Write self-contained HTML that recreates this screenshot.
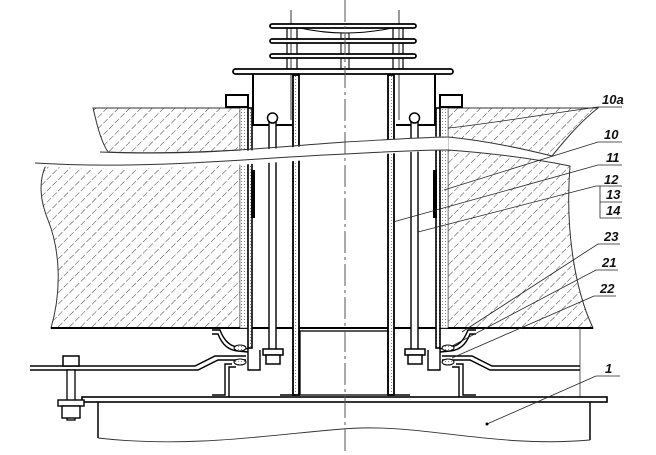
<!DOCTYPE html>
<html><head><meta charset="utf-8"><style>
html,body{margin:0;padding:0;background:#fff;}
svg{display:block}
text{font-family:"Liberation Sans",sans-serif;font-style:italic;font-weight:bold;font-size:13px;fill:#111}
</style></head><body>
<svg width="656" height="455" viewBox="0 0 656 455" xmlns="http://www.w3.org/2000/svg">
<defs>
<pattern id="h" width="8" height="8" patternUnits="userSpaceOnUse" patternTransform="rotate(45)">
<line x1="0" y1="0" x2="0" y2="8" stroke="#444" stroke-width="1" stroke-dasharray="6,2"/>
</pattern>
<pattern id="d" width="3" height="3" patternUnits="userSpaceOnUse">
<rect width="3" height="3" fill="#fff"/><rect x="1" y="1" width="1" height="1" fill="#888"/>
</pattern>
</defs>
<rect width="656" height="455" fill="#fff"/>
<!-- slabs -->
<path d="M93,108 L240,108 L240,150 C200,152 150,154 108,152 C100,140 96,120 93,108 Z" fill="url(#h)" stroke="#333" stroke-width="1"/>
<path d="M448,108 L598,108 C580,122 565,140 552,156 C520,148 480,140 448,137 Z" fill="url(#h)" stroke="#333" stroke-width="1"/>
<path d="M47,163 C120,168 200,165 240,163 L240,328 L51,328 C62,290 60,250 48,220 C40,200 38,180 47,163 Z" fill="url(#h)" stroke="#333" stroke-width="1"/>
<path d="M448,150 C490,153 530,158 570,166 C565,230 575,290 593,328 L448,328 Z" fill="url(#h)" stroke="#333" stroke-width="1"/>
<line x1="51" y1="328" x2="593" y2="328" stroke="#000" stroke-width="2"/>
<!-- insulation -->
<rect x="240" y="108" width="8" height="220" fill="url(#d)" stroke="#555" stroke-width="0.6"/>
<rect x="440" y="108" width="8" height="220" fill="url(#d)" stroke="#555" stroke-width="0.6"/>
<!-- sleeves outer -->
<rect x="248" y="108" width="4" height="240" fill="url(#d)" stroke="#000" stroke-width="1.6"/>
<rect x="436" y="108" width="4" height="240" fill="url(#d)" stroke="#000" stroke-width="1.6"/>
<rect x="251" y="170" width="4" height="48" fill="#000"/>
<rect x="433" y="170" width="4" height="48" fill="#000"/>
<!-- caps -->
<rect x="226" y="95" width="22" height="12" fill="#fff" stroke="#000" stroke-width="2"/>
<rect x="440" y="95" width="22" height="12" fill="#fff" stroke="#000" stroke-width="2"/>
<!-- boxes -->
<path d="M253,73 L253,125 L292,125" fill="none" stroke="#000" stroke-width="2"/>
<path d="M435,73 L435,125 L396,125" fill="none" stroke="#000" stroke-width="2"/>
<!-- inner pipes -->
<rect x="293" y="75" width="6" height="320" fill="url(#d)" stroke="#000" stroke-width="1.8"/>
<rect x="388" y="75" width="6" height="320" fill="url(#d)" stroke="#000" stroke-width="1.8"/>
<!-- rods -->
<rect x="269" y="118" width="7" height="232" fill="#fff" stroke="#000" stroke-width="1.4"/>
<rect x="411" y="118" width="7" height="232" fill="#fff" stroke="#000" stroke-width="1.4"/>
<circle cx="272.5" cy="118" r="5" fill="#fff" stroke="#000" stroke-width="1.5"/>
<circle cx="414.5" cy="118" r="5" fill="#fff" stroke="#000" stroke-width="1.5"/>
<rect x="263" y="349" width="20" height="6" fill="#fff" stroke="#000" stroke-width="1.5"/>
<rect x="266" y="355" width="14" height="9" fill="#fff" stroke="#000" stroke-width="1.5"/>
<rect x="405" y="349" width="20" height="6" fill="#fff" stroke="#000" stroke-width="1.5"/>
<rect x="408" y="355" width="14" height="9" fill="#fff" stroke="#000" stroke-width="1.5"/>
<!-- grille -->
<line x1="291" y1="10" x2="291" y2="120" stroke="#000" stroke-width="0.8"/>
<line x1="399" y1="10" x2="399" y2="120" stroke="#000" stroke-width="0.8"/>
<rect x="287" y="28" width="10" height="42" fill="none" stroke="#000" stroke-width="1.2"/>
<rect x="393" y="28" width="10" height="42" fill="none" stroke="#000" stroke-width="1.2"/>
<rect x="341" y="33" width="8" height="37" fill="none" stroke="#000" stroke-width="1"/>
<path d="M300,28 Q345,38 392,28" fill="none" stroke="#000" stroke-width="1"/>
<rect x="270" y="24" width="146" height="4" rx="2" fill="#fff" stroke="#000" stroke-width="1.8"/>
<rect x="270" y="39" width="146" height="4" rx="2" fill="#fff" stroke="#000" stroke-width="1.8"/>
<rect x="270" y="54" width="146" height="4" rx="2" fill="#fff" stroke="#000" stroke-width="1.8"/>
<rect x="233" y="69" width="220" height="5" rx="2.5" fill="#fff" stroke="#000" stroke-width="1.8"/>
<!-- break band -->
<path d="M30,150 C150,162 250,150 345,143 C400,139 430,137 448,136 L448,150 C420,151 400,153 345,157 C250,165 150,172 30,166 Z" fill="#fff"/>
<path d="M35,163 C150,170 250,158 345,154 C400,151 430,150 448,150" fill="none" stroke="#333" stroke-width="1"/>
<path d="M100,152 C200,156 260,148 345,142 C400,139 430,137 448,137" fill="none" stroke="#333" stroke-width="1"/>
<!-- bottom inner tube -->
<rect x="300" y="331" width="88" height="64" fill="none" stroke="#000" stroke-width="1.3"/>
<!-- flashing -->
<g fill="none" stroke="#000" stroke-width="1.4">
<path d="M212,330 L220,330 Q226,346 238,347 L248,349"/>
<path d="M212,334 L218,334 Q224,350 238,351 L248,352"/>
<path d="M30,366 L195,366 L215,356 L246,356"/>
<path d="M30,370 L198,370 L218,360 L246,360"/>
<path d="M248,348 L248,370 L260,370 L260,350"/>
<path d="M232,364 L225,364 L225,395 L212,395"/>
<path d="M236,367 L229,367 L229,398 L212,398"/>
<path d="M476,330 L468,330 Q462,346 450,347 L440,349"/>
<path d="M476,334 L470,334 Q464,350 450,351 L440,352"/>
<path d="M442,356 L472,356 L492,366 L580,366"/>
<path d="M442,360 L470,360 L490,370 L580,370"/>
<path d="M440,348 L440,370 L428,370 L428,350"/>
<path d="M456,364 L463,364 L463,395 L476,395"/>
<path d="M452,367 L459,367 L459,398 L476,398"/>
<path d="M280,395 L296,395 M388,395 L410,395"/>
</g>
<ellipse cx="240" cy="348" rx="6" ry="3" fill="url(#d)" stroke="#000"/>
<ellipse cx="240" cy="362" rx="6" ry="3" fill="url(#d)" stroke="#000"/>
<ellipse cx="448" cy="348" rx="6" ry="3" fill="url(#d)" stroke="#000"/>
<ellipse cx="448" cy="362" rx="6" ry="3" fill="url(#d)" stroke="#000"/>
<line x1="580" y1="328" x2="580" y2="398" stroke="#333" stroke-width="0.8"/>
<!-- plate 1 -->
<rect x="82" y="397" width="525" height="5" fill="#fff" stroke="#000" stroke-width="1.6"/>
<path d="M98,402 L98,438 M590,402 L590,440" stroke="#000" stroke-width="1.5"/>
<path d="M98,438 C200,450 300,430 360,428 C430,426 500,448 590,440" fill="none" stroke="#333" stroke-width="0.9"/>
<!-- bolt -->
<rect x="63" y="356" width="16" height="10" fill="#fff" stroke="#000" stroke-width="1.5"/>
<rect x="67" y="370" width="8" height="50" fill="#fff" stroke="#000" stroke-width="1.3"/>
<rect x="58" y="400" width="26" height="6" fill="#fff" stroke="#000" stroke-width="1.4"/>
<rect x="62" y="406" width="18" height="12" fill="#fff" stroke="#000" stroke-width="1.4"/>
<!-- centerline -->
<line x1="345" y1="0" x2="345" y2="455" stroke="#555" stroke-width="1" stroke-dasharray="22,4,3,4"/>
<!-- leaders -->
<g stroke="#222" stroke-width="0.8" fill="none">
<path d="M622,107 L598,107 C540,115 480,125 448,128"/>
<path d="M622,142 L598,142 L444,190"/>
<path d="M622,165 L598,165 L393,222"/>
<path d="M622,186 L596,186 L418,232"/>
<path d="M600,186 L600,218 L622,218 M600,202 L622,202"/>
<path d="M620,244 L598,244 L462,332"/>
<path d="M618,270 L596,270 L452,346"/>
<path d="M616,296 L594,296 L452,358"/>
<path d="M620,376 L596,376 L487,424"/>
</g>
<circle cx="487" cy="424" r="1.5" fill="#000"/>
<text x="602" y="104">10a</text>
<text x="604" y="139">10</text>
<text x="606" y="162">11</text>
<text x="604" y="184">12</text>
<text x="606" y="199">13</text>
<text x="606" y="215">14</text>
<text x="604" y="241">23</text>
<text x="602" y="267">21</text>
<text x="600" y="293">22</text>
<text x="605" y="373">1</text>
</svg>
</body></html>
